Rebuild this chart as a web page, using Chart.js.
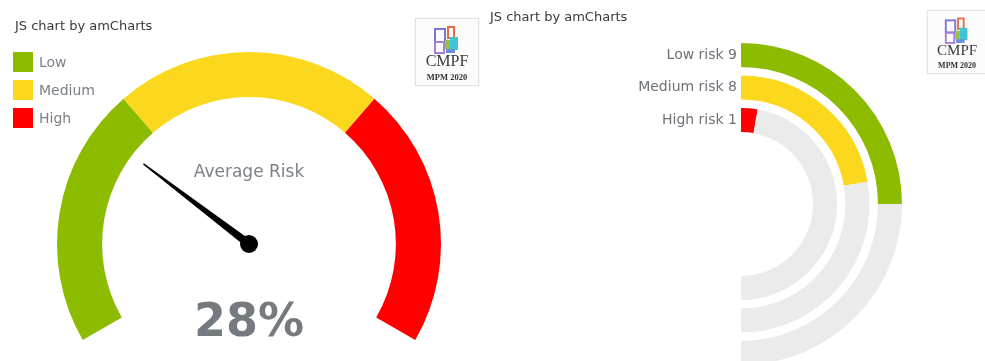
<!DOCTYPE html>
<html>
<head>
<meta charset="utf-8">
<title>Risk overview</title>
<script src="https://cdn.jsdelivr.net/npm/chart.js@4.4.1/dist/chart.umd.min.js"></script>
<style>
    html, body { margin: 0; padding: 0; background: #fff; overflow: hidden; }
    body { width: 985px; height: 361px; position: relative; font-family: "DejaVu Sans", Verdana, sans-serif; }
    #gauge-box { position: absolute; left: 0; top: 0; width: 485px; height: 361px; }
    #radial-box { position: absolute; left: 485px; top: 0; width: 500px; height: 370px; }
    .credit { position: absolute; font-size: 13px; color: #3a3a3a; z-index: 2; white-space: nowrap; }
    #gauge-legend { position: absolute; left: 13px; top: 52px; z-index: 2; }
    .legend-item { display: flex; align-items: center; height: 20px; margin-bottom: 8px; font-size: 14px; color: #7b8088; }
    .legend-swatch { width: 20px; height: 20px; margin-right: 6px; }
    .logo { position: absolute; width: 62px; height: 66px; border: 1px solid #e3e3e3; background: #fcfcfc;
            box-shadow: 0 0 2px rgba(0,0,0,0.08); transform-origin: 0 0; z-index: 2; }
    .logo i { position: absolute; display: block; box-sizing: border-box; }
    .logo .name { position: absolute; left: 0; width: 100%; top: 33px; text-align: center;
                  font-family: "Liberation Serif", serif; font-size: 16px; color: #3b3b3b; }
    .logo .year { position: absolute; left: 0; width: 100%; top: 53px; text-align: center;
                  font-family: "Liberation Serif", serif; font-weight: bold; font-size: 8.5px; color: #333; }
</style>
</head>
<body>

<div id="gauge-box"><canvas id="gauge-chart"></canvas></div>
<div id="radial-box"><canvas id="radial-chart"></canvas></div>

<div class="credit" style="left:15px; top:18px;">JS chart by amCharts</div>
<div class="credit" style="left:490px; top:9px;">JS chart by amCharts</div>
<div id="gauge-legend"></div>

<div class="logo" id="logo-left" style="left:415px; top:18px;"></div>
<div class="logo" id="logo-right" style="left:927px; top:10px; transform: scale(0.94);"></div>

<script>
// gauge bands
var bandLabels = ['Low', 'Medium', 'High'];
var bandStarts = [0, 33, 67];
var bandEnds = [33, 67, 100];
var bandColors = ['#8cbb00', '#fbd81e', '#ff0000'];
var averageRisk = 28;
var gaugeTitle = 'Average Risk';

// radial bars
var riskLabels = ['Low risk', 'Medium risk', 'High risk'];
var riskCounts = [9, 8, 1];
var riskColors = ['#8cbb00', '#fbd81e', '#ff0000'];
var trackColor = '#ebebeb';


function buildLegend() {
    let box = document.getElementById('gauge-legend');
    for (let i = 0; i < bandLabels.length; i++) {
        let item = document.createElement('div');
        item.className = 'legend-item';
        let sw = document.createElement('span');
        sw.className = 'legend-swatch';
        sw.style.background = bandColors[i];
        item.appendChild(sw);
        item.appendChild(document.createTextNode(bandLabels[i]));
        box.appendChild(item);
    }
}

function buildLogo(id) {
    let logo = document.getElementById(id);
    // stacked frames of the CMPF mark
    logo.innerHTML =
        '<i style="left:18px;top:9px;width:12px;height:15px;border:2px solid #7b74d6;"></i>' +
        '<i style="left:18px;top:22px;width:11px;height:13px;border:2px solid #a77fd8;"></i>' +
        '<i style="left:31px;top:7px;width:8px;height:13px;border:2px solid #ea6a45;"></i>' +
        '<i style="left:29px;top:21px;width:5px;height:9px;background:#8fc34a;"></i>' +
        '<i style="left:34px;top:18px;width:8px;height:13px;background:#42c3d6;"></i>' +
        '<i style="left:30px;top:30px;width:9px;height:4px;background:#6b8fd8;"></i>' +
        '<div class="name">CMPF</div>' +
        '<div class="year">MPM 2020</div>';
}


// needle and centre texts of the gauge
var gaugeNeedle = {
    id: 'gaugeNeedle',
    afterDatasetsDraw: function (chart) {
        let arcs = chart.getDatasetMeta(0).data;
        let first = arcs[0];
        let last = arcs[arcs.length - 1];
        let cx = first.x;
        let cy = first.y;
        let outer = first.outerRadius;

        let minVal = bandStarts[0];
        let maxVal = bandEnds[bandEnds.length - 1];
        let angle = first.startAngle + (averageRisk - minVal) / (maxVal - minVal) * (last.endAngle - first.startAngle);

        let ctx = chart.ctx;
        let len = outer * 0.69;
        let tipX = cx + Math.cos(angle) * len;
        let tipY = cy + Math.sin(angle) * len;
        let px = -Math.sin(angle);
        let py = Math.cos(angle);

        ctx.save();
        ctx.fillStyle = '#000';
        ctx.beginPath();
        ctx.moveTo(cx + px * 4, cy + py * 4);
        ctx.lineTo(tipX + px * 0.7, tipY + py * 0.7);
        ctx.lineTo(tipX - px * 0.7, tipY - py * 0.7);
        ctx.lineTo(cx - px * 4, cy - py * 4);
        ctx.closePath();
        ctx.fill();
        ctx.beginPath();
        ctx.arc(cx, cy, 9, 0, Math.PI * 2);
        ctx.fill();

        ctx.textAlign = 'center';
        ctx.textBaseline = 'middle';
        ctx.fillStyle = '#7d8289';
        ctx.font = '17px "DejaVu Sans", Verdana, sans-serif';
        ctx.fillText(gaugeTitle, cx, cy - 71);

        ctx.fillStyle = '#757a81';
        ctx.font = 'bold 46px "DejaVu Sans", Verdana, sans-serif';
        ctx.fillText(averageRisk + '%', cx, cy + 80);
        ctx.restore();
    }
};

// category labels left of each ring
var ringLabels = {
    id: 'ringLabels',
    afterDatasetsDraw: function (chart) {
        let ctx = chart.ctx;
        ctx.save();
        ctx.textAlign = 'right';
        ctx.textBaseline = 'middle';
        ctx.fillStyle = '#6d7279';
        ctx.font = '14px "DejaVu Sans", Verdana, sans-serif';
        chart.data.datasets.forEach(function (ds, di) {
            if (ds.spacer) return;
            let arc = chart.getDatasetMeta(di).data[0];
            let r = (arc.innerRadius + arc.outerRadius) / 2;
            ctx.fillText(ds.label + ' ' + ds.data[0], arc.x - 4, arc.y - r);
        });
        ctx.restore();
    }
};


function initializeGauge() {
    let sizes = [];
    for (let i = 0; i < bandStarts.length; i++) {
        sizes.push(bandEnds[i] - bandStarts[i]);
    }

    new Chart(document.getElementById('gauge-chart'), {
        type: 'doughnut',
        data: {
            labels: bandLabels,
            datasets: [{
                data: sizes,
                backgroundColor: bandColors,
                borderWidth: 0
            }]
        },
        options: {
            responsive: true,
            maintainAspectRatio: false,
            animation: false,
            events: [],
            rotation: -120,
            circumference: 240,
            cutout: '76.5%',
            layout: { padding: { left: 57, right: 44, top: 52, bottom: 21 } },
            plugins: {
                legend: { display: false },
                tooltip: { enabled: false }
            }
        },
        plugins: [gaugeNeedle]
    });
}

function initializeRadial() {
    let total = riskCounts.reduce(function (a, b) { return a + b; }, 0);
    let datasets = [];

    for (let i = 0; i < riskCounts.length; i++) {
        if (i > 0) {
            // white gap between rings
            datasets.push({
                spacer: true,
                data: [total],
                backgroundColor: ['rgba(0,0,0,0)'],
                borderWidth: 0,
                weight: 0.35
            });
        }
        datasets.push({
            label: riskLabels[i],
            data: [riskCounts[i], total - riskCounts[i]],
            backgroundColor: [riskColors[i], trackColor],
            borderWidth: 0,
            weight: 1
        });
    }

    new Chart(document.getElementById('radial-chart'), {
        type: 'doughnut',
        data: {
            labels: ['value', 'rest'],
            datasets: datasets
        },
        options: {
            responsive: true,
            maintainAspectRatio: false,
            animation: false,
            events: [],
            rotation: 0,
            circumference: 180,
            cutout: '44.7%',
            layout: { padding: { left: 256, right: 83, top: 43, bottom: 5 } },
            plugins: {
                legend: { display: false },
                tooltip: { enabled: false }
            }
        },
        plugins: [ringLabels]
    });
}

buildLegend();
buildLogo('logo-left');
buildLogo('logo-right');
initializeGauge();
initializeRadial();
</script>
</body>
</html>
